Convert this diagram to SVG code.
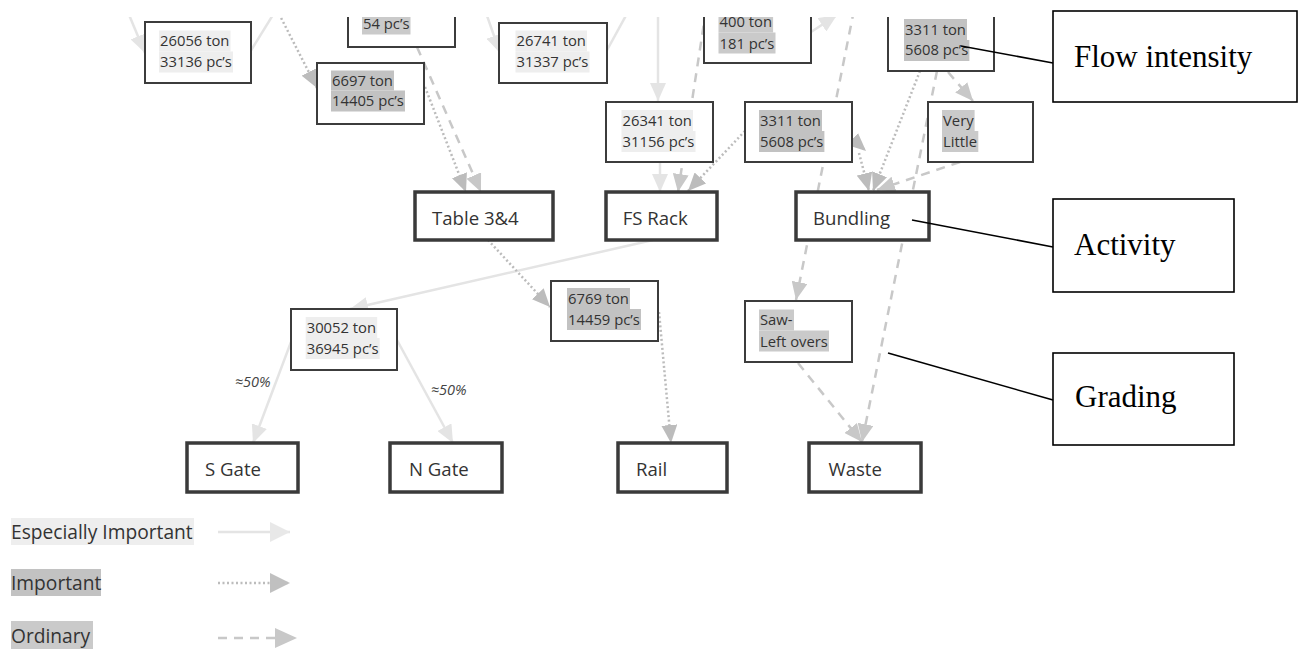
<svg xmlns="http://www.w3.org/2000/svg" width="1303" height="649" viewBox="0 0 1303 649">
<style>
.box{fill:#fff;stroke:#3c3c3c;stroke-width:2}
.act{fill:#fff;stroke:#3a3a3a;stroke-width:3.5}
.num{font-family:"Open Sans","Noto Sans",sans-serif;font-size:14.8px;fill:#333}
.lbl{font-family:"Open Sans","Noto Sans",sans-serif;font-size:18.6px;fill:#333}
.leg{font-family:"Open Sans","Noto Sans",sans-serif;font-size:19.2px;fill:#333}
.pct{font-family:"Open Sans","Noto Sans",sans-serif;font-size:14.5px;font-style:italic;fill:#444}
.hl0{fill:#eeeeee}
.hl1{fill:#c2c2c2}
.hl2{fill:#cacaca}
.light{fill:none;stroke:#e4e4e4;stroke-width:2.5}
.imp{fill:none;stroke:#bcbcbc;stroke-width:2.5;stroke-dasharray:2 2.5}
.ord{fill:none;stroke:#c8c8c8;stroke-width:2.5;stroke-dasharray:9 7}
.call{fill:#fff;stroke:#000;stroke-width:1.6}
.callt{font-family:"Liberation Serif","Times New Roman",serif;font-size:31px;fill:#000}
.cline{fill:none;stroke:#000;stroke-width:1.6}
</style>
<defs>
<clipPath id="crop"><rect x="0" y="17" width="1303" height="632"/></clipPath>
<marker id="hL" markerUnits="userSpaceOnUse" viewBox="0 0 18 16" markerWidth="18" markerHeight="16" refX="18" refY="8" orient="auto"><path d="M0,0L18,8L0,16Z" fill="#e4e4e4"/></marker>
<marker id="hI" markerUnits="userSpaceOnUse" viewBox="0 0 18 16" markerWidth="18" markerHeight="16" refX="18" refY="8" orient="auto"><path d="M0,0L18,8L0,16Z" fill="#bcbcbc"/></marker>
<marker id="hO" markerUnits="userSpaceOnUse" viewBox="0 0 18 16" markerWidth="18" markerHeight="16" refX="18" refY="8" orient="auto"><path d="M0,0L18,8L0,16Z" fill="#c8c8c8"/></marker>
<marker id="gL" markerUnits="userSpaceOnUse" viewBox="0 0 20 20" markerWidth="20" markerHeight="20" refX="20" refY="10" orient="auto"><path d="M0,0L20,10L0,20Z" fill="#e8e8e8"/></marker>
<marker id="gI" markerUnits="userSpaceOnUse" viewBox="0 0 20 20" markerWidth="20" markerHeight="20" refX="20" refY="10" orient="auto"><path d="M0,0L20,10L0,20Z" fill="#c0c0c0"/></marker>
<marker id="gO" markerUnits="userSpaceOnUse" viewBox="0 0 22 20" markerWidth="22" markerHeight="20" refX="22" refY="10" orient="auto"><path d="M0,0L22,10L0,20Z" fill="#c8c8c8"/></marker>
</defs>

<g id="connectors" clip-path="url(#crop)">
<path class="light" d="M127,10L145,53" marker-end="url(#hL)"/>
<path class="light" d="M250,52L276,10"/>
<path class="light" d="M485,10L500,53" marker-end="url(#hL)"/>
<path class="light" d="M606,52L629,10"/>
<path class="light" d="M658,10L658,101" marker-end="url(#hL)"/>
<path class="light" d="M811,32L837,15" marker-end="url(#hL)"/>
<path class="light" d="M660,162L660,192" marker-end="url(#hL)"/>
<path class="light" d="M653,240L350,309" marker-end="url(#hL)"/>
<path class="light" d="M291,342L253,443" marker-end="url(#hL)"/>
<path class="light" d="M397,340L453,443" marker-end="url(#hL)"/>

<path class="imp" d="M277,10L317,88" marker-end="url(#hI)"/>
<path class="imp" d="M425,87L466,192" marker-end="url(#hI)"/>
<path class="imp" d="M745,131L688,191" marker-end="url(#hI)"/>
<path class="imp" d="M846,133L866,151" marker-end="url(#hI)"/>
<path class="imp" d="M859,153L869,191" marker-end="url(#hI)"/>
<path class="imp" d="M920,71L873,191" marker-end="url(#hI)"/>
<path class="imp" d="M488,240L550,307" marker-end="url(#hI)"/>
<path class="imp" d="M659,312L671,443" marker-end="url(#hI)"/>

<path class="ord" d="M417,47L481,192" marker-end="url(#hO)"/>
<path class="ord" d="M706,10L678,192" marker-end="url(#hO)"/>
<path class="ord" d="M854,10L796,300" marker-end="url(#hO)"/>
<path class="ord" d="M937,71L862,442" marker-end="url(#hO)"/>
<path class="ord" d="M948,72L973,101" marker-end="url(#hO)"/>
<path class="ord" d="M960,162L877,190" marker-end="url(#hO)"/>
<path class="ord" d="M798,363L862,442" marker-end="url(#hO)"/>
</g>

<g id="n26056" clip-path="url(#crop)">
<rect class="box" x="145" y="22" width="106" height="61"/>
<rect class="hl0" x="159" y="30.5" width="71.5" height="21"/><rect class="hl0" x="159" y="51.5" width="74" height="21"/>
<text class="num" x="160" y="46.3">26056 ton</text><text class="num" x="160" y="67.3">33136 pc’s</text>
</g>
<g id="n54" clip-path="url(#crop)">
<rect class="box" x="348" y="-20" width="107" height="67"/>
<rect class="hl2" x="362" y="13.5" width="48.5" height="21"/>
<text class="num" x="363" y="29.3">54 pc’s</text>
</g>
<g id="n26741" clip-path="url(#crop)">
<rect class="box" x="499" y="23" width="108" height="60"/>
<rect class="hl0" x="515.5" y="30.5" width="71.5" height="21"/><rect class="hl0" x="515.5" y="51.5" width="74" height="21"/>
<text class="num" x="516.5" y="46.3">26741 ton</text><text class="num" x="516.5" y="67.3">31337 pc’s</text>
</g>
<g id="n400" clip-path="url(#crop)">
<rect class="box" x="704" y="-20" width="107" height="83"/>
<rect class="hl2" x="718.5" y="11.5" width="54.6" height="21"/><rect class="hl2" x="718.5" y="32.5" width="57" height="21"/>
<text class="num" x="719.5" y="27">400 ton</text><text class="num" x="719.5" y="48.5">181 pc’s</text>
</g>
<g id="n3311a" clip-path="url(#crop)">
<rect class="box" x="888" y="-20" width="106" height="91"/>
<rect class="hl1" x="904" y="19" width="63" height="21"/><rect class="hl1" x="904" y="40" width="65.4" height="21"/>
<text class="num" x="905" y="34.6">3311 ton</text><text class="num" x="905" y="55.3">5608 pc’s</text>
</g>

<g id="n6697">
<rect class="box" x="317" y="63" width="107" height="61"/>
<rect class="hl1" x="331" y="70.5" width="63" height="20"/><rect class="hl1" x="331" y="90.5" width="74" height="21"/>
<text class="num" x="332" y="86.3">6697 ton</text><text class="num" x="332" y="106.3">14405 pc’s</text>
</g>
<g id="n26341">
<rect class="box" x="606" y="102" width="107" height="60"/>
<rect class="hl0" x="621.5" y="110" width="71.5" height="21"/><rect class="hl0" x="621.5" y="131" width="74" height="21"/>
<text class="num" x="622.5" y="126">26341 ton</text><text class="num" x="622.5" y="147">31156 pc’s</text>
</g>
<g id="n3311b">
<rect class="box" x="745" y="102" width="107" height="60"/>
<rect class="hl1" x="759" y="110" width="63" height="21"/><rect class="hl1" x="759" y="131" width="65.4" height="21"/>
<text class="num" x="760" y="126">3311 ton</text><text class="num" x="760" y="147">5608 pc’s</text>
</g>
<g id="nVeryLittle">
<rect class="box" x="928" y="102" width="105" height="60"/>
<rect class="hl2" x="942" y="110" width="32.6" height="21"/><rect class="hl2" x="942" y="131" width="36.3" height="21"/>
<text class="num" x="943" y="126">Very</text><text class="num" x="943" y="147">Little</text>
</g>

<g id="nTable34">
<rect class="act" x="415" y="192" width="138" height="48"/>
<text class="lbl" x="432" y="224.5">Table 3&amp;4</text>
</g>
<g id="nFSRack">
<rect class="act" x="606" y="192" width="111" height="48"/>
<text class="lbl" x="622.7" y="224.5">FS Rack</text>
</g>
<g id="nBundling">
<rect class="act" x="796" y="192" width="133" height="48"/>
<text class="lbl" x="813" y="224.5">Bundling</text>
</g>

<g id="n30052">
<rect class="box" x="291" y="309" width="106" height="61"/>
<rect class="hl0" x="305.7" y="317" width="71.5" height="21"/><rect class="hl0" x="305.7" y="338" width="74" height="21"/>
<text class="num" x="306.7" y="333">30052 ton</text><text class="num" x="306.7" y="353.6">36945 pc’s</text>
</g>
<g id="n6769">
<rect class="box" x="551" y="281" width="107" height="60"/>
<rect class="hl1" x="567" y="288" width="63" height="21"/><rect class="hl1" x="567" y="309" width="74" height="21"/>
<text class="num" x="568" y="303.6">6769 ton</text><text class="num" x="568" y="324.6">14459 pc’s</text>
</g>
<g id="nSaw">
<rect class="box" x="745" y="301" width="107" height="61"/>
<rect class="hl2" x="759" y="309.5" width="35" height="21"/><rect class="hl2" x="759" y="330.5" width="70" height="21"/>
<text class="num" x="760" y="325.3">Saw-</text><text class="num" x="760" y="347">Left overs</text>
</g>

<g id="labels-pct">
<text class="pct" x="235" y="386.5">≈50%</text>
<text class="pct" x="431" y="395">≈50%</text>
</g>

<g id="nSGate">
<rect class="act" x="187" y="443" width="111" height="49"/>
<text class="lbl" x="205" y="476">S Gate</text>
</g>
<g id="nNGate">
<rect class="act" x="390" y="443" width="112" height="49"/>
<text class="lbl" x="409" y="476">N Gate</text>
</g>
<g id="nRail">
<rect class="act" x="618" y="443" width="109" height="49"/>
<text class="lbl" x="636" y="476">Rail</text>
</g>
<g id="nWaste">
<rect class="act" x="809" y="443" width="112" height="49"/>
<text class="lbl" x="828.5" y="476">Waste</text>
</g>

<g id="cFlow">
<rect class="call" x="1053" y="11" width="244" height="91"/>
<text class="callt" x="1074" y="67">Flow intensity</text>
</g>
<g id="cActivity">
<rect class="call" x="1053" y="199" width="181" height="93"/>
<text class="callt" x="1074" y="255">Activity</text>
</g>
<g id="cGrading">
<rect class="call" x="1053" y="353" width="181" height="92"/>
<text class="callt" x="1075" y="407">Grading</text>
</g>

<g id="callout-lines">
<path class="cline" d="M961,46L1053,63"/>
<path class="cline" d="M912,220L1053,247"/>
<path class="cline" d="M888,353L1053,400"/>
</g>

<g id="legend">
<rect class="hl0" x="11" y="518" width="183" height="27"/>
<text class="leg" x="11" y="538.5">Especially Important</text>
<path class="light" d="M218,532L290,532" marker-end="url(#gL)"/>
<rect class="hl1" x="11" y="569" width="90" height="27"/>
<text class="leg" x="11" y="590">Important</text>
<path class="imp" d="M218,583L290,583" marker-end="url(#gI)"/>
<rect class="hl2" x="11" y="621" width="82" height="28"/>
<text class="leg" x="11" y="643">Ordinary</text>
<path class="ord" d="M218,638L297,638" marker-end="url(#gO)"/>
</g>
</svg>
